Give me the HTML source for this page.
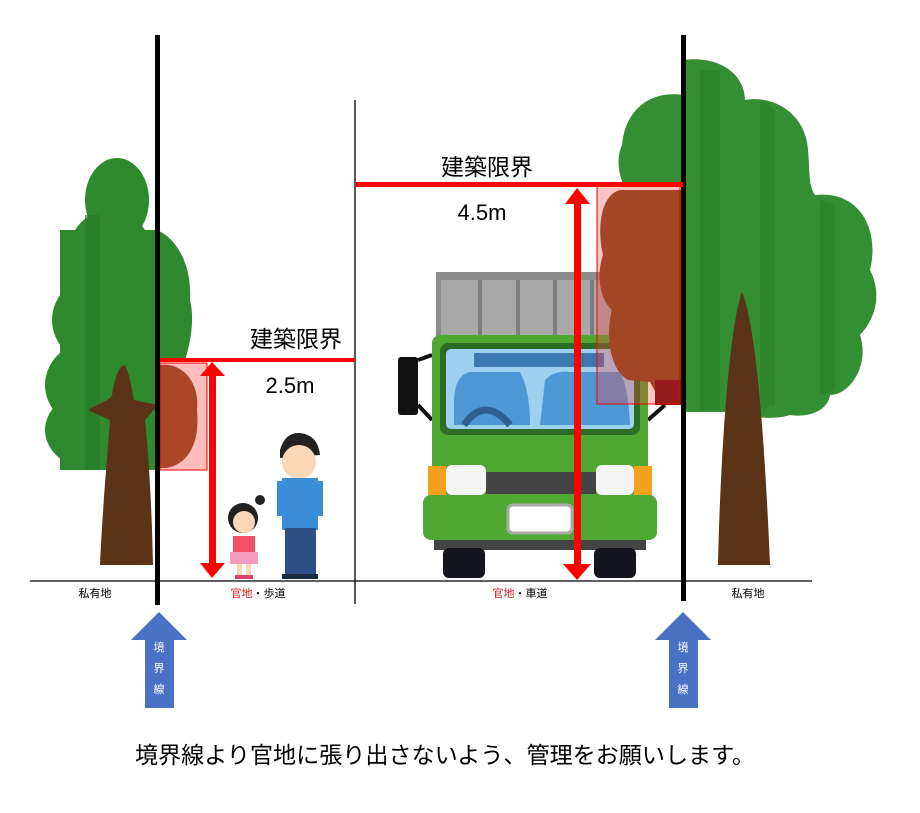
<!DOCTYPE html>
<html><head><meta charset="utf-8"><style>
body{margin:0;background:#fff;}
svg{display:block;}
text{font-family:"Liberation Sans","Noto Sans CJK JP",sans-serif;}
</style></head><body>
<svg width="920" height="813" viewBox="0 0 920 813" xmlns="http://www.w3.org/2000/svg">
<rect width="920" height="813" fill="#fff"/>
<!-- left tree -->
<g fill="#2f8a2f">
<ellipse cx="117" cy="200" rx="32" ry="42"/>
<ellipse cx="110" cy="255" rx="42" ry="45"/>
<ellipse cx="100" cy="320" rx="48" ry="45"/>
<ellipse cx="95" cy="385" rx="50" ry="45"/>
<ellipse cx="95" cy="430" rx="50" ry="40"/>
<rect x="60" y="230" width="97" height="240"/>
<path d="M157,230 C180,240 192,270 190,300 C195,320 190,345 185,360 L157,360 Z"/>
</g>
<path d="M85,215 L100,215 L100,470 L85,470 Z" fill="#287a28" opacity="0.6"/>
<path d="M160,365 C180,362 200,380 197,410 C200,440 190,465 165,468 L160,468 Z" fill="#7a4a1a"/>
<path d="M100,565 C103,500 108,450 110,420 L88,410 C100,403 110,400 112,395 C115,375 120,365 125,365 C130,375 132,390 134,400 L158,405 L145,420 C150,470 152,520 153,565 Z" fill="#5b3316"/>
<!-- right tree -->
<g>
<path d="M683,60 C720,55 745,75 745,100 C770,95 805,110 808,150 C810,170 808,185 815,195 C860,190 880,230 870,270 C885,300 870,325 860,335 C870,365 850,395 830,395 C828,410 810,418 790,415 C775,420 750,418 740,412 L683,412 Z" fill="#348f34"/>
<path d="M700,70 L720,70 L720,410 L700,410 Z M760,100 L775,110 L775,405 L760,410 Z M820,200 L835,205 L835,390 L820,395 Z" fill="#2a7d2a" opacity="0.55"/>
<path d="M683,95 C650,90 625,110 622,145 C615,160 620,180 625,186 L683,186 Z" fill="#348f34"/>
<path d="M718,565 C720,470 728,330 742,292 C758,330 766,470 770,565 Z" fill="#5b3316"/>
</g>
<!-- truck -->
<g>
<rect x="436" y="272" width="180" height="75" fill="#8c8c8c"/>
<rect x="441" y="280" width="170" height="62" fill="#a8a8a8"/>
<g fill="#7d7d7d"><rect x="478" y="280" width="4" height="62"/><rect x="516" y="280" width="4" height="62"/><rect x="553" y="280" width="4" height="62"/><rect x="590" y="280" width="4" height="62"/></g>
<rect x="398" y="357" width="20" height="58" rx="3" fill="#111"/>
<path d="M418,360 L432,355 M418,405 L432,420" stroke="#111" stroke-width="4" fill="none"/>
<path d="M648,420 L665,405" stroke="#111" stroke-width="4"/>
<rect x="432" y="335" width="216" height="160" rx="8" fill="#4fa832"/>
<rect x="440" y="343" width="200" height="92" rx="8" fill="#2d6e26"/>
<rect x="446" y="349" width="188" height="80" rx="5" fill="#9ed0f0"/>
<path d="M454,425 L454,400 Q455,375 470,372 L520,372 Q530,390 530,425 Z" fill="#4f98d6"/>
<path d="M540,425 L545,380 Q555,370 570,372 L620,372 Q628,385 630,425 Z" fill="#4f98d6"/>
<rect x="474" y="353" width="130" height="14" fill="#3c78b0"/>
<path d="M464,425 Q485,395 510,425" stroke="#2d5f92" stroke-width="7" fill="none"/>
<rect x="428" y="466" width="18" height="30" fill="#f2a21c"/>
<rect x="634" y="466" width="18" height="30" fill="#f2a21c"/>
<rect x="446" y="465" width="40" height="30" rx="6" fill="#f5f5f5"/>
<rect x="596" y="465" width="38" height="30" rx="6" fill="#f5f5f5"/>
<rect x="486" y="472" width="110" height="22" fill="#444"/>
<rect x="423" y="495" width="234" height="45" rx="8" fill="#4fa832"/>
<rect x="508" y="505" width="64" height="28" rx="5" fill="#fff" stroke="#aaa" stroke-width="3"/>
<rect x="434" y="540" width="212" height="10" fill="#444"/>
<rect x="443" y="548" width="42" height="30" rx="6" fill="#151520"/>
<rect x="594" y="548" width="42" height="30" rx="6" fill="#151520"/>
</g>
<!-- right brown overlapped canopy -->
<path d="M683,190 L620,190 C600,195 597,230 603,255 C596,275 600,300 612,310 C605,335 610,370 628,380 L650,382 L660,400 L683,405 Z" fill="#7a4a1a"/>
<rect x="655" y="380" width="28" height="25" fill="#6b0c0c"/>
<!-- pink zones -->
<rect x="160" y="363" width="47" height="107" fill="#ff4040" fill-opacity="0.35" stroke="#e00" stroke-width="1"/>
<rect x="597" y="186" width="83" height="218" fill="#ff4040" fill-opacity="0.3" stroke="#e00" stroke-width="1"/>
<!-- people -->
<g>
<circle cx="243" cy="518" r="15" fill="#222"/>
<circle cx="244" cy="522" r="11" fill="#fbd7b8"/>
<circle cx="260" cy="500" r="5" fill="#222"/>
<rect x="233" y="536" width="22" height="20" fill="#f0506a"/>
<rect x="230" y="552" width="28" height="12" fill="#f59bbd"/>
<rect x="237" y="564" width="5" height="12" fill="#fbd7b8"/><rect x="246" y="564" width="5" height="12" fill="#fbd7b8"/>
<rect x="235" y="575" width="18" height="4" fill="#e0406a"/>
<path d="M280,450 Q285,432 300,433 Q318,435 320,455 L280,458 Z" fill="#222"/>
<circle cx="299" cy="462" r="17" fill="#fbd7b8"/>
<rect x="282" y="478" width="36" height="52" fill="#3a8ed6"/>
<rect x="277" y="481" width="7" height="35" fill="#3a8ed6"/>
<rect x="316" y="481" width="7" height="35" fill="#3a8ed6"/>
<rect x="285" y="528" width="31" height="48" fill="#2d4f86"/>
<rect x="282" y="574" width="36" height="5" fill="#1c2a45"/>
</g>
<!-- lines -->
<line x1="30" y1="581" x2="812" y2="581" stroke="#000" stroke-width="1.3"/>
<line x1="355" y1="100" x2="355" y2="604" stroke="#000" stroke-width="1.3"/>
<rect x="155" y="35" width="5" height="570" fill="#000"/>
<rect x="681" y="35" width="5" height="566" fill="#000"/>
<!-- red limits -->
<rect x="356" y="182" width="327" height="5" fill="#f00"/>
<rect x="160" y="358" width="195" height="4" fill="#f00"/>
<rect x="574" y="200" width="7" height="365" fill="#f00"/>
<polygon points="565,204 577,188 590,204" fill="#f00"/>
<polygon points="563,564 577,580 591,564" fill="#f00"/>
<rect x="209" y="374" width="7" height="190" fill="#f00"/>
<polygon points="200,376 212,362 225,376" fill="#f00"/>
<polygon points="200,563 212,578 225,563" fill="#f00"/>
<!-- labels -->
<text x="487" y="175" font-size="23" text-anchor="middle" fill="#000">建築限界</text>
<text x="482" y="220" font-size="22" text-anchor="middle" fill="#000">4.5m</text>
<text x="296" y="347" font-size="23" text-anchor="middle" fill="#000">建築限界</text>
<text x="290" y="393" font-size="22" text-anchor="middle" fill="#000">2.5m</text>
<g font-size="11" text-anchor="middle">
<text x="95" y="597">私有地</text>
<text x="258" y="597"><tspan fill="#d01c1c">官地</tspan>・歩道</text>
<text x="520" y="597"><tspan fill="#d01c1c">官地</tspan>・車道</text>
<text x="748" y="597">私有地</text>
</g>
<!-- blue arrows -->
<polygon points="159,612 187,640 174,640 174,708 145,708 145,640 131,640" fill="#4a72c4"/>
<polygon points="683,612 711,640 698,640 698,708 669,708 669,640 655,640" fill="#4a72c4"/>
<g font-size="11" fill="#fff" text-anchor="middle">
<text x="159" y="651">境</text><text x="159" y="672">界</text><text x="159" y="693">線</text>
<text x="683" y="651">境</text><text x="683" y="672">界</text><text x="683" y="693">線</text>
</g>
<text x="445" y="763" font-size="23" text-anchor="middle" fill="#000" textLength="620" lengthAdjust="spacingAndGlyphs">境界線より官地に張り出さないよう、管理をお願いします。</text>
</svg>
</body></html>
